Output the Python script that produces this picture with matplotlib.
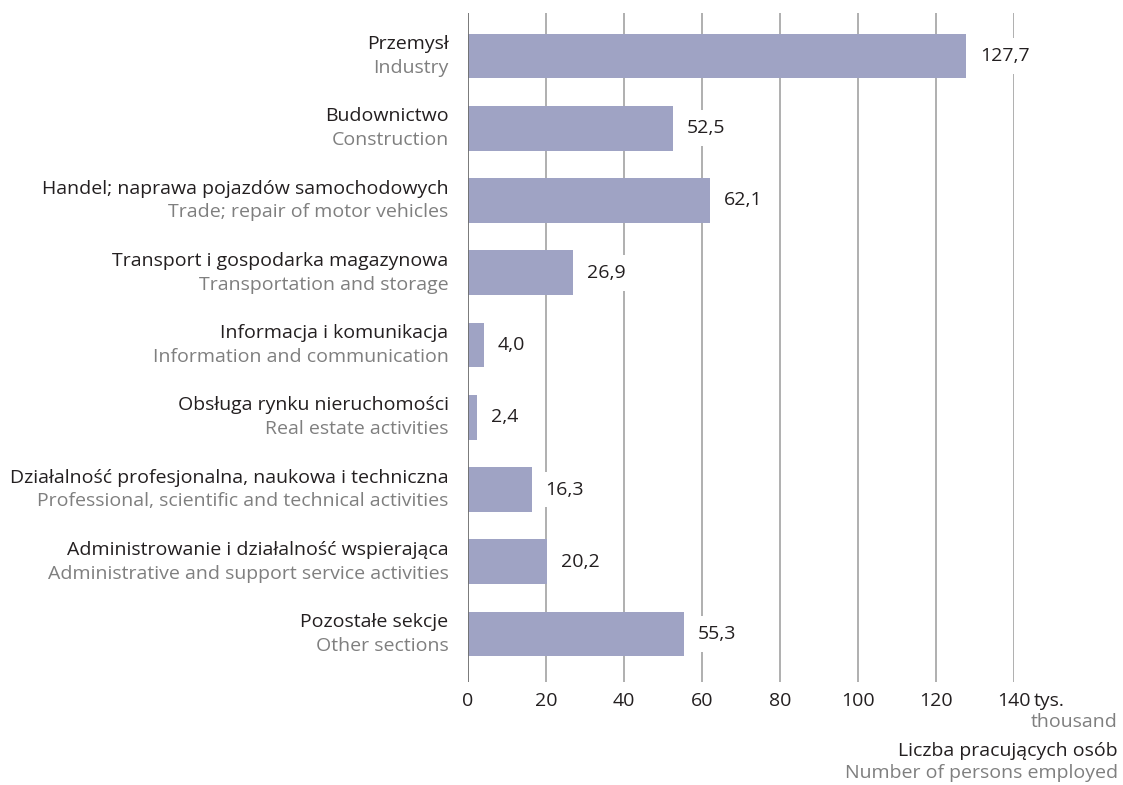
import matplotlib
matplotlib.use("Agg")
import matplotlib.pyplot as plt

# data
labels_pl = ["Przemysł", "Budownictwo", "Handel; naprawa pojazdów samochodowych",
             "Transport i gospodarka magazynowa", "Informacja i komunikacja",
             "Obsługa rynku nieruchomości",
             "Działalność profesjonalna, naukowa i techniczna",
             "Administrowanie i działalność wspierająca", "Pozostałe sekcje"]
labels_en = ["Industry", "Construction", "Trade; repair of motor vehicles",
             "Transportation and storage", "Information and communication",
             "Real estate activities",
             "Professional, scientific and technical activities",
             "Administrative and support service activities", "Other sections"]
values = [127.7, 52.5, 62.1, 26.9, 4.0, 2.4, 16.3, 20.2, 55.3]
xticks = [0, 20, 40, 60, 80, 100, 120, 140]

BAR_C = "#9fa3c4"
DARK = "#231f20"
GRAY = "#7f7f7f"
GRID_C = "#9a9a9a"
FS = 14

plt.rcParams.update({"font.family": ["Open Sans", "DejaVu Sans"], "font.size": FS})

W, H = 1123, 785
fig = plt.figure(figsize=(W / 100, H / 100), dpi=100)
ax = fig.add_axes([468 / W, 1 - 682 / H, (1014 - 468) / W, 669 / H])

ypos = list(range(len(values)))
ax.barh(ypos, values, height=0.62, color=BAR_C, zorder=2)

ax.set_xlim(0, 140)
ax.set_ylim(8.664, -0.595)
for s in ax.spines.values():
    s.set_visible(False)
for x in xticks[1:]:
    ax.axvline(x, color=GRID_C, lw=1.1, zorder=1)
ax.axvline(0, color="#6e6e6e", lw=1.3, zorder=3)

ax.set_yticks([])
ax.set_xticks(xticks)
ax.tick_params(axis="x", length=0, pad=7, labelsize=FS, labelcolor=DARK)

# category labels (Polish / English)
for i, (pl, en) in enumerate(zip(labels_pl, labels_en)):
    ax.annotate(pl, xy=(0, i), xycoords="data", xytext=(-14, 8.5), textcoords="offset points",
                ha="right", va="center", fontsize=FS, color=DARK)
    ax.annotate(en, xy=(0, i), xycoords="data", xytext=(-14, -8.5), textcoords="offset points",
                ha="right", va="center", fontsize=FS, color=GRAY)

# value labels
for i, v in enumerate(values):
    ax.annotate(f"{v:.1f}".replace(".", ","), xy=(v, i), xytext=(10, 0),
                textcoords="offset points", ha="left", va="center", fontsize=FS,
                color=DARK, zorder=4,
                bbox=dict(boxstyle="square,pad=0.45", fc="white", ec="none"))

ax.annotate("tys.", xy=(140, 0), xycoords=("data", "axes fraction"), xytext=(14, -13.5),
            textcoords="offset points", ha="left", va="center", fontsize=FS, color=DARK)

fig.text(1118 / W, 1 - 722 / H, "thousand", ha="right", va="center", fontsize=FS, color=GRAY)
fig.text(1118 / W, 1 - 751 / H, "Liczba pracujących osób", ha="right", va="center",
         fontsize=FS, color=DARK)
fig.text(1118 / W, 1 - 773 / H, "Number of persons employed", ha="right", va="center",
         fontsize=FS, color=GRAY)

fig.savefig("out.png", dpi=100)
